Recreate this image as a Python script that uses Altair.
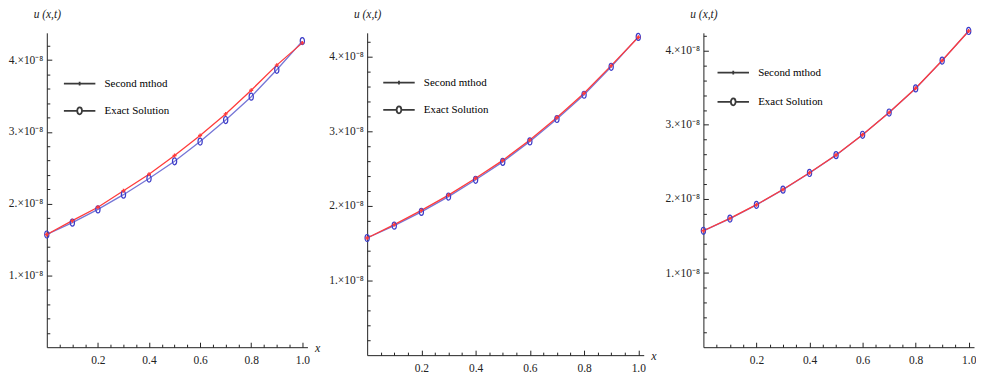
import altair as alt
import pandas as pd

# ---------------- data ----------------
x_vals = [0.0, 0.1, 0.2, 0.3, 0.4, 0.5, 0.6, 0.7, 0.8, 0.9, 1.0]
exact = [1.570e-8, 1.735e-8, 1.920e-8, 2.125e-8, 2.350e-8, 2.590e-8,
         2.865e-8, 3.165e-8, 3.490e-8, 3.865e-8, 4.265e-8]
second_p1 = [1.570e-8, 1.763e-8, 1.950e-8, 2.180e-8, 2.410e-8, 2.670e-8,
             2.950e-8, 3.250e-8, 3.580e-8, 3.930e-8, 4.240e-8]
second_p2 = [1.570e-8, 1.750e-8, 1.940e-8, 2.145e-8, 2.370e-8, 2.610e-8,
             2.885e-8, 3.185e-8, 3.510e-8, 3.880e-8, 4.260e-8]
second_p3 = [1.570e-8, 1.737e-8, 1.922e-8, 2.127e-8, 2.352e-8, 2.592e-8,
             2.866e-8, 3.166e-8, 3.492e-8, 3.866e-8, 4.264e-8]

legend_names = ["Second mthod", "Exact Solution"]
x_label_values = [0.2, 0.4, 0.6, 0.8, 1.0]
x_minor_ticks = [0.05, 0.1, 0.15, 0.25, 0.3, 0.35, 0.45, 0.5, 0.55, 0.65,
                 0.7, 0.75, 0.85, 0.9, 0.95]
y_label_values = [1e-8, 2e-8, 3e-8, 4e-8]
y_minor_ticks = [0.2e-8, 0.4e-8, 0.6e-8, 0.8e-8, 1.2e-8, 1.4e-8, 1.6e-8,
                 1.8e-8, 2.2e-8, 2.4e-8, 2.6e-8, 2.8e-8, 3.2e-8, 3.4e-8,
                 3.6e-8, 3.8e-8, 4.2e-8]

RED = "#ff3b3b"
BLUE_LINE = "#7676d6"
BLUE_MARK = "#3c3cc8"
AXIS_C = "#222222"
FONT = "'Liberation Serif', 'Times New Roman', serif"

PLUS_PATH = "M-1,0H1M0,-1V1"
ELLIPSE_PATH = "M0,-1A0.6,1 0 1,1 0,1A0.6,1 0 1,1 0,-1Z"
LEG_PLUS = "M-1,0H1M0,-0.12V0.12"
LEG_CIRC = ("M-1,0H-0.15M0.15,0H1M0,-0.22A0.15,0.22 0 1,1 0,0.22"
            "A0.15,0.22 0 1,1 0,-0.22Z")


def make_panel(second, width, height, ymax, lx, ly, row_pad, x_title):
    df = pd.DataFrame({
        "x": x_vals * 2,
        "value": second + exact,
        "series": [legend_names[0]] * len(x_vals) + [legend_names[1]] * len(x_vals),
    })
    xs = alt.Scale(domain=[0, 1.02], nice=False, zero=False)
    ys = alt.Scale(domain=[0, ymax], nice=False, zero=False)

    x_title_kw = dict(title=None)
    if x_title:
        x_title_kw = dict(title="x", titleX=width + 7, titleY=0, titleAlign="left",
                          titleBaseline="middle", titleAngle=0, titleFont=FONT,
                          titleFontStyle="italic", titleFontWeight="normal",
                          titleFontSize=12, titleColor=AXIS_C)

    ax_x_main = alt.Axis(orient="bottom", values=x_label_values, format=".1f",
                         ticks=False, grid=False, domainColor=AXIS_C, domainWidth=1,
                         labelFont=FONT, labelFontSize=11.5, labelColor=AXIS_C,
                         labelPadding=7, labelFlush=False, **x_title_kw)
    ax_y_main = alt.Axis(orient="left", values=y_label_values,
                         labelExpr="round(datum.value*1e8) + '.×10⁻⁸'",
                         ticks=False, grid=False, domainColor=AXIS_C, domainWidth=1,
                         labelFont=FONT, labelFontSize=11.5, labelColor=AXIS_C,
                         labelPadding=4, title="u (x,t)", titleAngle=0, titleX=0,
                         titleY=-18, titleAlign="center", titleBaseline="middle",
                         titleFont=FONT, titleFontStyle="italic",
                         titleFontWeight="normal", titleFontSize=11.5,
                         titleColor=AXIS_C)
    ax_x_major = alt.Axis(orient="bottom", values=x_label_values, labels=False,
                          domain=False, grid=False, ticks=True, tickSize=5,
                          offset=-5, tickColor=AXIS_C, title=None)
    ax_y_major = alt.Axis(orient="left", values=y_label_values, labels=False,
                          domain=False, grid=False, ticks=True, tickSize=5,
                          offset=-5, tickColor=AXIS_C, title=None)
    ax_x_minor = alt.Axis(orient="bottom", values=x_minor_ticks, labels=False,
                          domain=False, grid=False, ticks=True, tickSize=3,
                          offset=-3, tickColor=AXIS_C, title=None)
    ax_y_minor = alt.Axis(orient="left", values=y_minor_ticks, labels=False,
                          domain=False, grid=False, ticks=True, tickSize=3,
                          offset=-3, tickColor=AXIS_C, title=None)

    base = alt.Chart(df)
    blue_line = base.transform_filter(
        alt.datum.series == legend_names[1]
    ).mark_line(color=BLUE_LINE, strokeWidth=1.3).encode(
        x=alt.X("x:Q", scale=xs, axis=ax_x_main),
        y=alt.Y("value:Q", scale=ys, axis=ax_y_main),
    )
    red_line = base.transform_filter(
        alt.datum.series == legend_names[0]
    ).mark_line(color=RED, strokeWidth=1.3).encode(
        x=alt.X("x:Q", scale=xs, axis=ax_x_major),
        y=alt.Y("value:Q", scale=ys, axis=ax_y_major),
    )
    blue_pts = base.transform_filter(
        alt.datum.series == legend_names[1]
    ).mark_point(shape=ELLIPSE_PATH, size=50, filled=False, color=BLUE_MARK,
                 strokeWidth=1.2, opacity=1).encode(
        x=alt.X("x:Q", scale=xs, axis=ax_x_minor),
        y=alt.Y("value:Q", scale=ys, axis=ax_y_minor),
    )
    red_pts = base.transform_filter(
        alt.datum.series == legend_names[0]
    ).mark_point(shape=PLUS_PATH, size=16, filled=False, color=RED,
                 strokeWidth=1.4, opacity=1).encode(
        x=alt.X("x:Q", scale=xs, axis=None),
        y=alt.Y("value:Q", scale=ys, axis=None),
    )
    legend_layer = base.transform_filter("false").mark_point(
        color="#3a3a3a", filled=False, strokeWidth=1.8, size=1000, opacity=1
    ).encode(
        x=alt.X("x:Q", scale=xs, axis=None),
        y=alt.Y("value:Q", scale=ys, axis=None),
        shape=alt.Shape(
            "series:N",
            scale=alt.Scale(domain=legend_names, range=[LEG_PLUS, LEG_CIRC]),
            legend=alt.Legend(title=None, orient="none", legendX=lx, legendY=ly,
                              symbolSize=1000, symbolStrokeWidth=1.8,
                              symbolStrokeColor="#3a3a3a",
                              labelFont=FONT, labelFontSize=11,
                              labelColor="black", labelOffset=8,
                              rowPadding=row_pad, padding=0),
        ),
    )
    return alt.layer(blue_line, red_line, blue_pts, red_pts, legend_layer).resolve_axis(
        x="independent", y="independent"
    ).properties(width=width, height=height)


p1 = make_panel(second_p1, 262, 316, 4.38e-8, 16, 34, 4.4, True)
p2 = make_panel(second_p2, 278, 324, 4.32e-8, 15, 33, 4.4, True)
p3 = make_panel(second_p3, 272, 316, 4.24e-8, 13, 23, 6.4, False)

chart = alt.hconcat(p1, p2, p3, spacing=60, bounds="flush").resolve_scale(
    shape="independent"
).resolve_legend(shape="independent").properties(
    padding={"left": 0, "top": 0, "right": 0, "bottom": 0}
).configure_view(stroke=None)

chart.save("out.html", embed_options={"renderer": "svg", "actions": False})
